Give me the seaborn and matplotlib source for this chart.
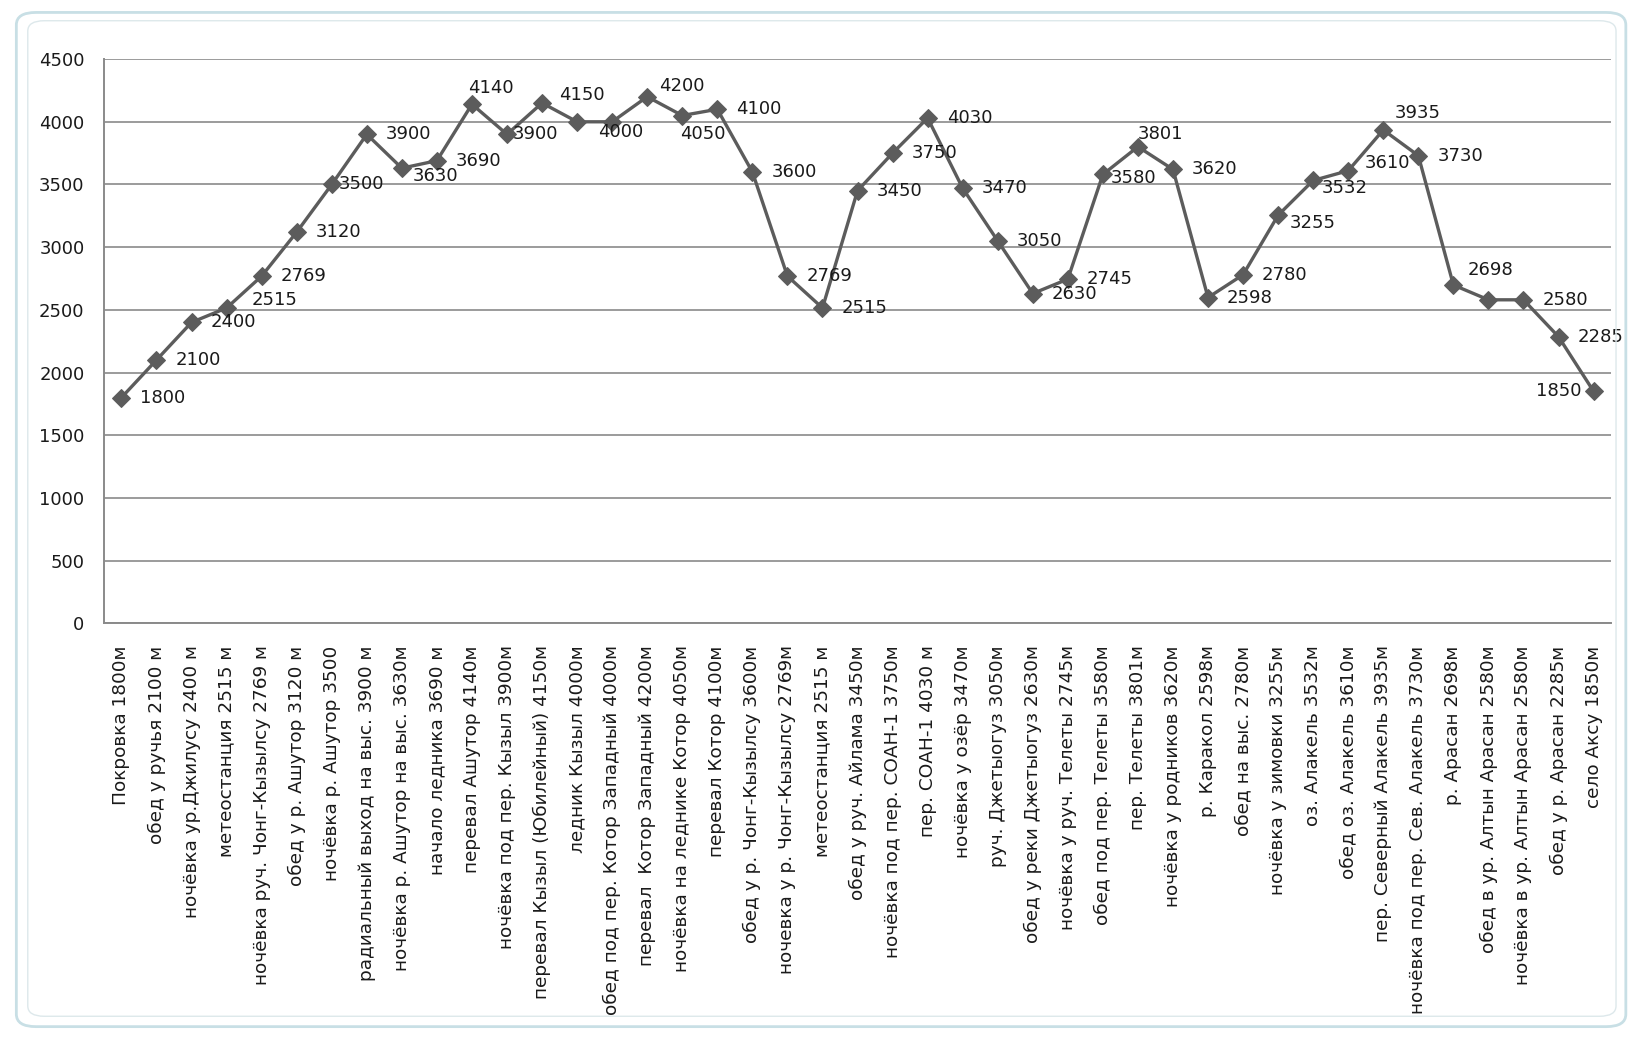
import numpy as np
import pandas as pd
import matplotlib
matplotlib.use("Agg")
import matplotlib.pyplot as plt
from matplotlib.patches import FancyBboxPatch
import seaborn as sns

# route points (Russian labels as in the original sheet)
places = [
    "Покровка 1800м", "обед у ручья 2100 м", "ночёвка ур.Джилусу 2400 м",
    "метеостанция 2515 м", "ночёвка руч. Чонг-Кызылсу 2769 м", "обед у р. Ашутор 3120 м",
    "ночёвка р. Ашутор 3500", "радиальный выход на выс. 3900 м",
    "ночёвка р. Ашутор на выс. 3630м", "начало ледника 3690 м", "перевал Ашутор 4140м",
    "ночёвка под пер. Кызыл 3900м", "перевал Кызыл (Юбилейный) 4150м", "ледник Кызыл 4000м",
    "обед под пер. Котор Западный 4000м", "перевал  Котор Западный 4200м",
    "ночёвка на леднике Котор 4050м", "перевал Котор 4100м", "обед у р. Чонг-Кызылсу 3600м",
    "ночевка у р. Чонг-Кызылсу 2769м", "метеостанция 2515 м", "обед у руч. Айлама 3450м",
    "ночёвка под пер. СОАН-1 3750м", "пер. СОАН-1 4030 м", "ночёвка у озёр 3470м",
    "руч. Джетыогуз 3050м", "обед у реки Джетыогуз 2630м", "ночёвка у руч. Телеты 2745м",
    "обед под пер. Телеты 3580м", "пер. Телеты 3801м", "ночёвка у родников 3620м",
    "р. Каракол 2598м", "обед на выс. 2780м", "ночёвка у зимовки 3255м",
    "оз. Алакель 3532м", "обед оз. Алакель 3610м", "пер. Северный Алакель 3935м",
    "ночёвка под пер. Сев. Алакель 3730м", "р. Арасан 2698м",
    "обед в ур. Алтын Арасан 2580м", "ночёвка в ур. Алтын Арасан 2580м",
    "обед у р. Арасан 2285м", "село Аксу 1850м",
]
heights = [
    1800, 2100, 2400, 2515, 2769, 3120, 3500, 3900, 3630, 3690, 4140,
    3900, 4150, 4000, 4000, 4200, 4050, 4100, 3600, 2769, 2515, 3450,
    3750, 4030, 3470, 3050, 2630, 2745, 3580, 3801, 3620, 2598, 2780,
    3255, 3532, 3610, 3935, 3730, 2698, 2580, 2580, 2285, 1850,
]
y_ticks = [0, 500, 1000, 1500, 2000, 2500, 3000, 3500, 4000, 4500]

df = pd.DataFrame({"pos": np.arange(len(places)), "place": places, "h": heights})

sns.set_theme(style="white")
plt.rcParams["font.family"] = ["DejaVu Sans"]

grey = "#5c5c5c"
gridc = "#8a8a8a"

fig = plt.figure(figsize=(16.34, 10.37), dpi=100)
ax = fig.add_axes([0.0636, 0.399, 0.9224, 0.544])

# excel-like chart frame
frame = FancyBboxPatch((0.010, 0.010), 0.985, 0.978, transform=fig.transFigure,
                       boxstyle="round,pad=0,rounding_size=0.012",
                       facecolor="none", edgecolor="#c8dfe5", linewidth=2.0, zorder=0)
fig.patches.append(frame)
frame2 = FancyBboxPatch((0.017, 0.020), 0.972, 0.960, transform=fig.transFigure,
                        boxstyle="round,pad=0,rounding_size=0.010",
                        facecolor="none", edgecolor="#dde8eb", linewidth=1.0, zorder=0)
fig.patches.append(frame2)

sns.lineplot(data=df, x="pos", y="h", ax=ax, color=grey, linewidth=2.4,
             marker="D", markersize=9.5, markeredgecolor=grey, markerfacecolor=grey,
             sort=False, zorder=3)

ax.set_xlim(-0.5, len(places) - 0.5)
ax.set_ylim(0, 4500)
ax.set_yticks(y_ticks)
ax.set_yticklabels([str(t) for t in y_ticks], fontsize=13, color="#1a1a1a")
ax.set_xticks(df["pos"])
ax.set_xticklabels(places, rotation=90, fontsize=13.3, color="#1a1a1a")
ax.tick_params(axis="both", length=0)
ax.tick_params(axis="y", pad=14)
ax.tick_params(axis="x", pad=16)
ax.set_xlabel("")
ax.set_ylabel("")

ax.yaxis.grid(True, color=gridc, linewidth=1.2)
ax.xaxis.grid(False)
for side in ["top", "right"]:
    ax.spines[side].set_visible(False)
for side in ["left", "bottom"]:
    ax.spines[side].set_color(gridc)
    ax.spines[side].set_linewidth(1.4)

# data labels: default to the right of the marker, a few moved by hand (pixels)
moved = {3: (25, 8), 6: (7, 0), 8: (11, -8), 10: (-4, 16), 11: (6, 0),
         12: (17, 8), 13: (21, -10), 15: (12, 11), 16: (-2, -18), 28: (8, -4),
         29: (0, 13), 33: (12, -8), 34: (8, -8), 35: (16, 8), 36: (11, 17),
         38: (14, 15)}
hidden = {14, 39}
for i, (p, h) in enumerate(zip(df["pos"], df["h"])):
    if i in hidden:
        continue
    if i == len(heights) - 1:
        ax.annotate(str(h), (p, h), xytext=(-12, 0), textcoords="offset pixels",
                    ha="right", va="center", fontsize=13, color="#1a1a1a", zorder=4)
        continue
    dx, dy = moved.get(i, (19, 0))
    ax.annotate(str(h), (p, h), xytext=(dx, dy), textcoords="offset pixels",
                ha="left", va="center", fontsize=13, color="#1a1a1a", zorder=4)

fig.savefig("out.png", dpi=100, facecolor="white")
